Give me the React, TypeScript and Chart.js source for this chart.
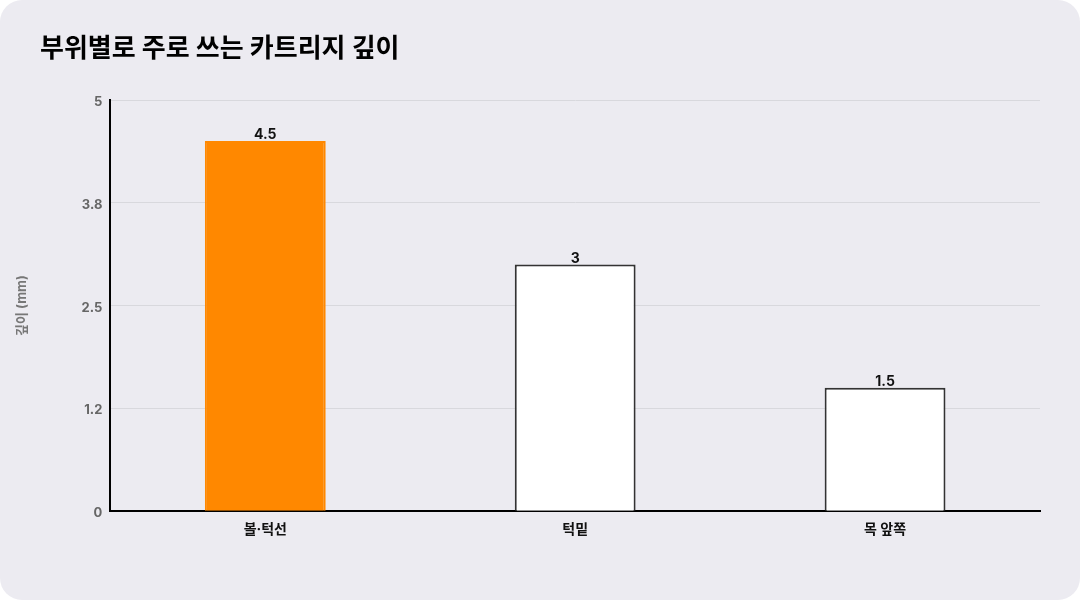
import { useEffect, useRef } from "react";
import Chart from "chart.js/auto";

const categories = ["볼·턱선", "턱밑", "목 앞쪽"];
const depths = [4.5, 3, 1.5];
const barColors = ["#FF8800", "#FFFFFF", "#FFFFFF"];
const barBorders = ["#FF8800", "#333333", "#333333"];
const yTickLabels = ["0", "1.2", "2.5", "3.8", "5"];

const FONT = "Inter, 'Noto Sans CJK KR', sans-serif";

const valueLabels = {
  id: "valueLabels",
  afterDatasetsDraw(chart: any) {
    const { ctx } = chart;
    const meta = chart.getDatasetMeta(0);
    ctx.save();
    ctx.font = `bold 14px ${FONT}`;
    ctx.fillStyle = "#111111";
    ctx.textAlign = "center";
    ctx.textBaseline = "bottom";
    meta.data.forEach((bar: any, i: number) => {
      ctx.fillText(String(depths[i]), bar.x, bar.y + 1);
    });
    ctx.restore();
  },
};

export default function App() {
  const canvasRef = useRef<HTMLCanvasElement | null>(null);

  useEffect(() => {
    if (!canvasRef.current) return;
    const chart = new Chart(canvasRef.current, {
      type: "bar",
      data: {
        labels: categories,
        datasets: [
          {
            data: depths,
            backgroundColor: barColors,
            borderColor: barBorders,
            borderWidth: 2,
            barPercentage: 0.39,
            categoryPercentage: 1,
          },
        ],
      },
      options: {
        responsive: false,
        animation: false,
        layout: { padding: { left: 14, right: 40, top: 100, bottom: 52 } },
        plugins: {
          legend: { display: false },
          tooltip: { enabled: false },
        },
        scales: {
          x: {
            grid: { display: false, drawTicks: false },
            border: { color: "#000000", width: 2 },
            ticks: {
              color: "#111111",
              padding: 10,
              font: { family: FONT, size: 14, weight: "bold" },
            },
          },
          y: {
            min: 0,
            max: 5,
            afterBuildTicks: (axis: any) => {
              axis.ticks = yTickLabels.map((_, i) => ({ value: i * 1.25 }));
            },
            grid: { color: "#D8D8DD", drawTicks: false },
            border: { color: "#000000", width: 2 },
            ticks: {
              color: "#666666",
              padding: 8,
              labelOffset: 2,
              font: { family: FONT, size: 13, weight: "bold" },
              callback: (_v: any, i: number) => yTickLabels[i],
            },
            title: {
              display: true,
              text: "깊이 (mm)",
              color: "#777777",
              padding: { top: 0, bottom: 44 },
              font: { family: FONT, size: 13, weight: "bold" },
            },
          },
        },
      },
      plugins: [valueLabels],
    });
    return () => chart.destroy();
  }, []);

  return (
    <div
      style={{
        position: "absolute",
        left: 0,
        top: 0,
        width: 1080,
        height: 600,
        background: "#ECEBF1",
        borderRadius: 22,
        overflow: "hidden",
      }}
    >
      <canvas
        ref={canvasRef}
        width={1080}
        height={600}
        style={{ position: "absolute", left: 0, top: 0, width: 1080, height: 600 }}
      />
      <div
        style={{
          position: "absolute",
          left: 40,
          top: 31,
          fontFamily: FONT,
          fontSize: 26,
          fontWeight: 700,
          lineHeight: "34px",
          color: "#000000",
          whiteSpace: "nowrap",
        }}
      >
        부위별로 주로 쓰는 카트리지 깊이
      </div>
    </div>
  );
}
